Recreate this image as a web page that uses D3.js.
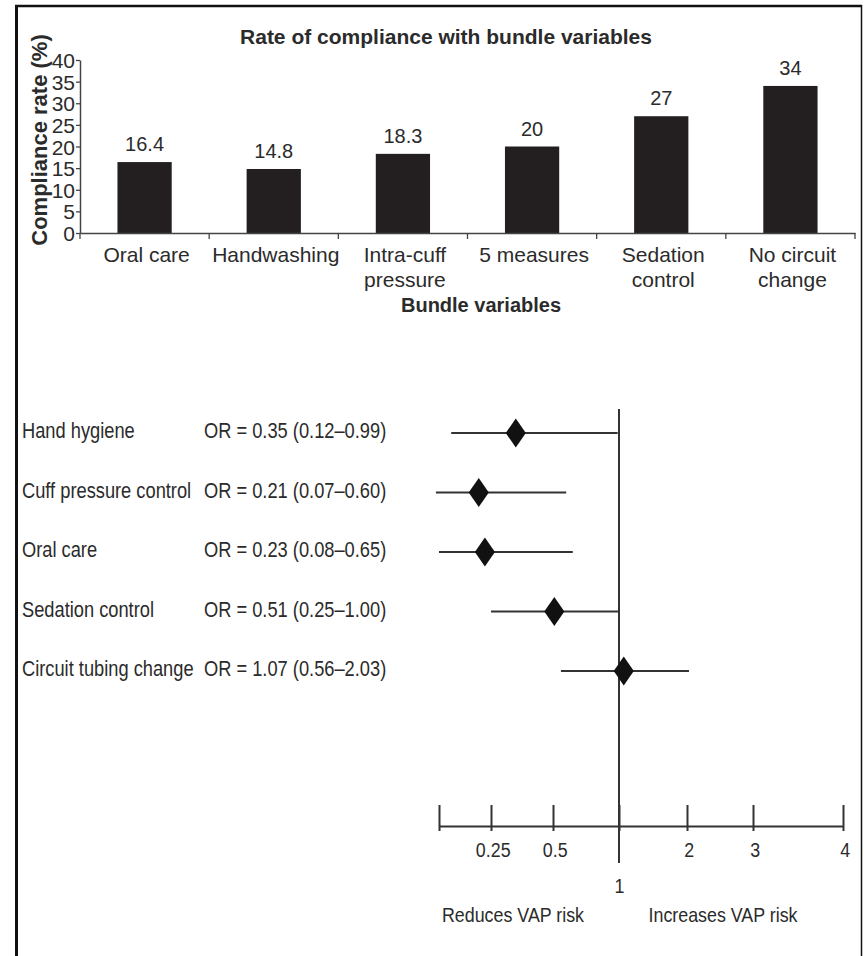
<!DOCTYPE html>
<html>
<head>
<meta charset="utf-8">
<script src="https://cdn.jsdelivr.net/npm/d3@7"></script>
<style>
  body { margin: 0; background: #fff; }
  svg text { fill: #2b2b2b; }
  .sans { font-family: "Liberation Sans", Arial, sans-serif; }
  .narrow { font-family: "Liberation Sans", Arial, sans-serif; }
</style>
</head>
<body>
<svg width="864" height="956"></svg>
<script>
// ---- bar chart data ----
var categories = ['Oral care', 'Handwashing', 'Intra-cuff\npressure', '5 measures', 'Sedation\ncontrol', 'No circuit\nchange'];
var complianceValues = [16.4, 14.8, 18.3, 20, 27, 34];
var complianceLabels = ['16.4', '14.8', '18.3', '20', '27', '34'];
var yTicks = [0, 5, 10, 15, 20, 25, 30, 35, 40];

// ---- forest plot data ----
var factors = ['Hand hygiene', 'Cuff pressure control', 'Oral care', 'Sedation control', 'Circuit tubing change'];
var oddsRatios = [0.35, 0.21, 0.23, 0.51, 1.07];
var ciLow = [0.12, 0.07, 0.08, 0.25, 0.56];
var ciHigh = [0.99, 0.60, 0.65, 1.00, 2.03];
var orTicks = [0.08, 0.25, 0.5, 1, 2, 3, 4];
var orTickLabels = ['', '0.25', '0.5', '1', '2', '3', '4'];

var svg = d3.select('svg');
var ink = '#231f20';
// the lower panel uses a condensed face; squeeze the regular one horizontally
var squeeze = 'scale(0.85,1)';

// frame around the figure
svg.append('line').attr('x1', 15).attr('x2', 862).attr('y1', 6).attr('y2', 6)
    .attr('stroke', '#111').attr('stroke-width', 2.5);
svg.append('line').attr('x1', 16.5).attr('x2', 16.5).attr('y1', 5).attr('y2', 956)
    .attr('stroke', '#111').attr('stroke-width', 3);
svg.append('line').attr('x1', 861.5).attr('x2', 861.5).attr('y1', 5).attr('y2', 956)
    .attr('stroke', '#111').attr('stroke-width', 1.5);

// ================= bar chart =================
var x = d3.scaleBand().domain(categories).range([80, 855])
    .paddingInner(0.58).paddingOuter(0.29);
var y = d3.scaleLinear().domain([0, 40]).range([233, 60]);

var barG = svg.append('g').attr('class', 'sans');

barG.append('text')
    .attr('x', 446).attr('y', 44)
    .attr('text-anchor', 'middle')
    .style('font-weight', 'bold').style('font-size', '21px')
    .text('Rate of compliance with bundle variables');

// y axis
var yAxis = barG.append('g')
    .attr('transform', 'translate(80,0)')
    .call(d3.axisLeft(y).tickValues(yTicks).tickSize(4).tickPadding(1).tickSizeOuter(0));
yAxis.select('.domain').attr('stroke', '#444').attr('stroke-width', 1.5);
yAxis.selectAll('.tick line').attr('stroke', '#444').attr('stroke-width', 1.3);
yAxis.selectAll('.tick text')
    .style('font-size', '21px').style('font-family', '"Liberation Sans", Arial, sans-serif')
    .attr('fill', '#2b2b2b').attr('dy', '0.36em');

barG.append('text')
    .attr('transform', 'translate(47,140) rotate(-90)')
    .attr('text-anchor', 'middle')
    .style('font-weight', 'bold').style('font-size', '22px')
    .text('Compliance rate (%)');

// bars
barG.selectAll('.bar')
    .data(categories)
    .enter().append('rect')
    .attr('class', 'bar')
    .attr('x', function(d) { return x(d); })
    .attr('width', x.bandwidth())
    .attr('y', function(d, i) { return y(complianceValues[i]); })
    .attr('height', function(d, i) { return y(0) - y(complianceValues[i]); })
    .attr('fill', ink);

barG.selectAll('.val')
    .data(categories)
    .enter().append('text')
    .attr('class', 'val')
    .attr('x', function(d) { return x(d) + x.bandwidth() / 2; })
    .attr('y', function(d, i) { return y(complianceValues[i]) - 11; })
    .attr('text-anchor', 'middle')
    .style('font-size', '20px')
    .text(function(d, i) { return complianceLabels[i]; });

// x axis with ticks at band boundaries
var xAxis = barG.append('g')
    .attr('transform', 'translate(0,' + y(0) + ')')
    .call(d3.axisBottom(x).tickSize(0).tickSizeOuter(0).tickFormat(''));
xAxis.select('.domain').attr('stroke', '#444').attr('stroke-width', 1.5);

var half = x.step() * x.paddingInner() / 2;
var bounds = categories.map(function(d) { return x(d) - half; });
bounds.push(x(categories[categories.length - 1]) + x.bandwidth() + half);
xAxis.selectAll('.bound')
    .data(bounds)
    .enter().append('line')
    .attr('x1', function(d) { return d; }).attr('x2', function(d) { return d; })
    .attr('y1', 0).attr('y2', 6)
    .attr('stroke', '#444').attr('stroke-width', 1.3);

var catText = barG.selectAll('.cat')
    .data(categories)
    .enter().append('text')
    .attr('class', 'cat')
    .attr('text-anchor', 'middle')
    .style('font-size', '21px')
    .attr('transform', function(d) { return 'translate(' + (x(d) + x.bandwidth() / 2 + 2) + ',262)'; });
catText.selectAll('tspan')
    .data(function(d) { return d.split('\n'); })
    .enter().append('tspan')
    .attr('x', 0)
    .attr('y', function(d, i) { return i * 25; })
    .text(function(d) { return d; });

barG.append('text')
    .attr('x', 481).attr('y', 312)
    .attr('text-anchor', 'middle')
    .style('font-weight', 'bold').style('font-size', '20px')
    .text('Bundle variables');

// ================= forest plot =================
var fx = d3.scaleLinear().domain(orTicks).range([439, 491, 553, 619, 687, 753, 843]);
var fy = d3.scalePoint().domain(factors).range([433, 671]);
var axisY = 826;
var fmt = d3.format('.2f');

var fG = svg.append('g').attr('class', 'narrow');

// reference line at OR = 1
fG.append('line')
    .attr('x1', fx(1)).attr('x2', fx(1))
    .attr('y1', 409).attr('y2', 863)
    .attr('stroke', '#333').attr('stroke-width', 2);

var rows = fG.selectAll('.row')
    .data(factors)
    .enter().append('g')
    .attr('class', 'row')
    .attr('transform', function(d) { return 'translate(0,' + fy(d) + ')'; });

rows.append('text')
    .attr('transform', 'translate(22,5) ' + squeeze)
    .style('font-size', '21.5px')
    .text(function(d) { return d; });

rows.append('text')
    .attr('transform', 'translate(204,5) ' + squeeze)
    .style('font-size', '21.5px')
    .text(function(d, i) {
        return 'OR = ' + fmt(oddsRatios[i]) + ' (' + fmt(ciLow[i]) + '\u2013' + fmt(ciHigh[i]) + ')';
    });

rows.append('line')
    .attr('x1', function(d, i) { return fx(ciLow[i]); })
    .attr('x2', function(d, i) { return fx(ciHigh[i]); })
    .attr('stroke', '#333').attr('stroke-width', 2);

rows.append('path')
    .attr('d', d3.symbol(d3.symbolDiamond, 243))
    .attr('transform', function(d, i) { return 'translate(' + fx(oddsRatios[i]) + ',0) scale(1.2,1)'; })
    .attr('fill', '#111');

// OR axis
var orAxis = fG.append('g')
    .attr('transform', 'translate(0,' + axisY + ')')
    .call(d3.axisBottom(fx).tickValues(orTicks).tickSizeOuter(0)
        .tickFormat(function(d, i) { return orTickLabels[i]; }));
orAxis.select('.domain').attr('stroke', '#333').attr('stroke-width', 2);
orAxis.selectAll('.tick line')
    .attr('y1', -21).attr('y2', 5)
    .attr('stroke', '#333').attr('stroke-width', 2);
orAxis.selectAll('.tick text')
    .style('font-size', '21px')
    .style('font-family', '"Liberation Sans", Arial, sans-serif')
    .attr('fill', '#2b2b2b')
    .attr('dy', null)
    .attr('transform', squeeze)
    .attr('x', function(d) { return d === 1 ? 0 : 2; })
    .attr('y', function(d) { return d === 1 ? 67 : 31; });

fG.append('text')
    .attr('transform', 'translate(513,922) ' + squeeze)
    .attr('text-anchor', 'middle')
    .style('font-size', '21px')
    .text('Reduces VAP risk');
fG.append('text')
    .attr('transform', 'translate(723,922) ' + squeeze)
    .attr('text-anchor', 'middle')
    .style('font-size', '21px')
    .text('Increases VAP risk');
</script>
</body>
</html>
